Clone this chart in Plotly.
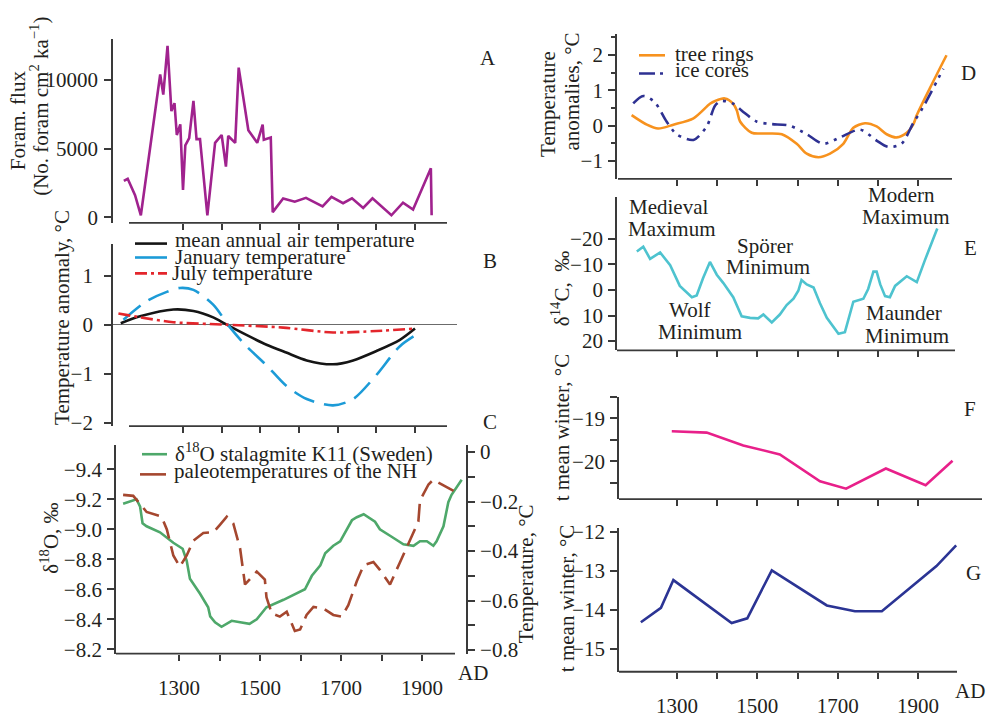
import plotly.graph_objects as go

W, H = 995, 718
FONT = "Liberation Serif"
FS = 21
TXT = "#231f20"
AX = "#3a3a3a"

# ---------------- data ----------------
a_years = [1147,1157,1176,1191,1241,1249,1260,1270,1278,1284,1293,1300,1306,1316,1327,1335,1344,1363,1383,1400,1411,1417,1435,1444,1469,1492,1506,1509,1527,1532,1559,1589,1618,1661,1684,1714,1737,1766,1790,1839,1869,1895,1941,1943]
a_flux = [2640,2800,1600,140,10400,8940,12480,7730,8310,5990,6760,1990,5230,5760,8470,5690,5690,140,5420,5990,3680,5920,5420,10900,6340,5420,6740,5650,5810,370,1370,1130,1410,790,1480,1020,1370,670,1370,140,1060,550,3560,140]

b_mean_years = [1139,1189,1275,1327,1378,1413,1464,1516,1567,1620,1688,1740,1800,1861,1900]
b_mean = [0.03,0.17,0.31,0.28,0.15,0.0,-0.21,-0.41,-0.57,-0.73,-0.81,-0.73,-0.54,-0.31,-0.08]
b_jan_years = [1146,1206,1258,1292,1327,1378,1421,1464,1516,1567,1620,1688,1740,1800,1861,1917]
b_jan = [0.1,0.48,0.67,0.75,0.71,0.41,-0.05,-0.44,-0.83,-1.25,-1.52,-1.65,-1.52,-1.03,-0.44,-0.14]
b_jul_years = [1133,1189,1275,1413,1559,1688,1800,1900]
b_jul = [0.23,0.15,0.05,0.0,-0.06,-0.16,-0.13,-0.08]

c_o18_years = [1162,1195,1204,1210,1220,1253,1286,1309,1319,1327,1352,1372,1377,1389,1405,1430,1451,1474,1492,1516,1558,1582,1611,1628,1649,1661,1681,1698,1714,1727,1739,1756,1784,1796,1825,1854,1879,1895,1912,1928,1936,1953,1965,1973,1998]
c_o18 = [-9.17,-9.20,-9.15,-9.04,-9.02,-8.98,-8.91,-8.87,-8.79,-8.67,-8.57,-8.48,-8.42,-8.38,-8.35,-8.39,-8.38,-8.37,-8.40,-8.48,-8.53,-8.56,-8.60,-8.69,-8.76,-8.84,-8.89,-8.92,-9.00,-9.06,-9.08,-9.10,-9.05,-9.00,-8.95,-8.90,-8.89,-8.92,-8.92,-8.89,-8.92,-9.02,-9.18,-9.23,-9.33]
c_nh_years = [1162,1187,1204,1220,1257,1270,1286,1302,1319,1335,1360,1385,1401,1418,1434,1451,1463,1480,1492,1512,1516,1529,1549,1566,1574,1586,1599,1615,1632,1656,1681,1702,1718,1739,1756,1780,1796,1821,1846,1870,1891,1895,1916,1928,1978]
c_nh = [-0.173,-0.177,-0.21,-0.242,-0.261,-0.313,-0.418,-0.463,-0.418,-0.359,-0.327,-0.324,-0.294,-0.261,-0.288,-0.391,-0.535,-0.502,-0.483,-0.515,-0.587,-0.652,-0.665,-0.645,-0.678,-0.723,-0.717,-0.658,-0.626,-0.632,-0.658,-0.665,-0.619,-0.522,-0.457,-0.444,-0.476,-0.535,-0.444,-0.359,-0.281,-0.196,-0.131,-0.112,-0.157]

d_tree_years = [1187,1225,1253,1291,1341,1382,1395,1419,1440,1449,1457,1486,1515,1561,1598,1623,1652,1681,1714,1739,1768,1797,1822,1847,1872,1888,1897,1930,1971]
d_tree = [0.30,0.03,-0.08,0.03,0.21,0.62,0.70,0.77,0.62,0.43,0.12,-0.20,-0.22,-0.24,-0.51,-0.79,-0.89,-0.79,-0.51,-0.06,0.07,-0.02,-0.24,-0.33,-0.20,0.03,0.30,1.07,1.99]
d_ice_years = [1191,1216,1245,1274,1299,1341,1374,1395,1411,1440,1465,1498,1532,1581,1623,1664,1706,1756,1797,1826,1859,1888,1913,1963]
d_ice = [0.63,0.84,0.66,0.12,-0.24,-0.40,-0.02,0.57,0.70,0.62,0.39,0.12,0.05,0.0,-0.24,-0.51,-0.33,-0.11,-0.42,-0.60,-0.51,0.07,0.53,1.61]

e_years = [1200,1216,1233,1258,1283,1307,1337,1349,1365,1382,1399,1415,1440,1461,1482,1502,1515,1536,1556,1573,1590,1602,1610,1623,1640,1656,1673,1685,1702,1718,1739,1764,1776,1789,1797,1806,1818,1830,1843,1872,1897,1917,1930,1948]
e_d14c = [-15.1,-17.0,-12.2,-14.7,-9.7,-1.6,2.8,2.1,-4.7,-11.0,-6.0,-2.8,2.8,10.3,10.9,11.1,9.6,12.7,9.6,5.9,3.4,0.3,-3.9,-2.2,-1.0,5.2,10.9,13.4,17.1,16.5,4.6,3.4,-0.4,-7.2,-7.2,-2.2,2.4,2.8,-1.6,-5.4,-3.1,-11.6,-17.2,-24.1]

f_years = [1287,1374,1465,1556,1656,1721,1820,1919,1986]
f_vals = [-19.30,-19.33,-19.63,-19.84,-20.47,-20.64,-20.17,-20.56,-19.99]

g_years = [1210,1260,1291,1436,1475,1536,1673,1743,1810,1888,1946,1995]
g_vals = [-14.32,-13.95,-13.24,-14.34,-14.22,-12.99,-13.89,-14.04,-14.04,-13.38,-12.88,-12.35]

x_ticks = [1300,1400,1500,1600,1700,1800,1900]
x_label_ticks = [1300,1500,1700,1900]
x_minor_ticks = [1400,1600,1800]
a_ticks = [0,5000,10000]
a_ticktext = ["0","5000","10000"]
b_ticks = [-2,-1,0,1]
b_ticktext = ["\u22122","\u22121","0","1"]
c_ticks = [-9.4,-9.2,-9.0,-8.8,-8.6,-8.4,-8.2]
c_ticktext = ["\u22129.4","\u22129.2","\u22129.0","\u22128.8","\u22128.6","\u22128.4","\u22128.2"]
c2_ticks = [0,-0.2,-0.4,-0.6,-0.8]
c2_ticktext = ["0","\u22120.2","\u22120.4","\u22120.6","\u22120.8"]
d_ticks = [-1,0,1,2]
d_ticktext = ["\u22121","0","1","2"]
e_ticks = [-20,-10,0,10,20]
e_ticktext = ["\u221220","\u221210","0","10","20"]
f_ticks = [-20,-19]
f_ticktext = ["\u221220","\u221219"]
g_ticks = [-15,-14,-13,-12]
g_ticktext = ["\u221215","\u221214","\u221213","\u221212"]

# ---------------- helpers ----------------
def px(x):
    return x / W

def py(y):
    return 1 - y / H

def xrange_for(xl, xr, p1300, p1900):
    s = (p1900 - p1300) / 600.0
    return [1300 - (p1300 - xl) / s, 1900 + (xr - p1900) / s]

fig = go.Figure()

def line(x, y, color, xa, ya, dash="solid", width=2.6, shape="linear", name=""):
    fig.add_trace(go.Scatter(x=x, y=y, mode="lines", name=name, xaxis=xa, yaxis=ya,
                             line=dict(color=color, width=width, dash=dash, shape=shape, smoothing=0.8),
                             showlegend=False, hoverinfo="skip"))

PURPLE = "#a0228e"
BLACK = "#151515"
JAN = "#1c9bd7"
JUL = "#e3262c"
GREEN = "#4ea86a"
BROWN = "#a5472f"
ORANGE = "#f7921e"
NAVY = "#2e3192"
CYAN = "#4ec3cf"
MAGENTA = "#e8208a"
NAVY2 = "#2b3494"

line(a_years, a_flux, PURPLE, "x", "y", name="Foram. flux")
line(b_mean_years, b_mean, BLACK, "x2", "y2", shape="spline", name="mean annual air temperature")
line(b_jan_years, b_jan, JAN, "x2", "y2", dash="22px,10px", shape="spline", name="January temperature")
line(b_jul_years, b_jul, JUL, "x2", "y2", dash="12px,4px,3px,4px", shape="spline", name="July temperature")
line(c_o18_years, c_o18, GREEN, "x3", "y3", name="d18O stalagmite K11 (Sweden)")
line(c_nh_years, c_nh, BROWN, "x3", "y4", dash="18px,8px", name="paleotemperatures of the NH")
line(d_tree_years, d_tree, ORANGE, "x4", "y5", shape="spline", name="tree rings")
line(d_ice_years, d_ice, NAVY, "x4", "y5", dash="14px,6px,3px,6px,3px,6px", shape="spline", name="ice cores")
line(e_years, e_d14c, CYAN, "x5", "y6", name="d14C")
line(f_years, f_vals, MAGENTA, "x6", "y7", name="F")
line(g_years, g_vals, NAVY2, "x7", "y8", name="G")

tickfont = dict(family=FONT, size=FS, color=TXT)

def xaxis(xl, xr, p1300, p1900, anchor, labels=False):
    d = dict(domain=[px(xl), px(xr)], range=xrange_for(xl, xr, p1300, p1900), anchor=anchor,
             showline=False, showgrid=False, zeroline=False,
             ticks="outside", ticklen=6, tickwidth=1.5, tickcolor=AX,
             tickfont=tickfont, fixedrange=True)
    if labels:
        d.update(tickvals=x_label_ticks, showticklabels=True, ticklabelstandoff=9,
                 minor=dict(tickvals=x_minor_ticks, ticks="outside", ticklen=6, tickwidth=1.5, tickcolor=AX))
    else:
        d.update(tickvals=x_ticks, showticklabels=False)
    return d

def yaxis(yt, yb, rng, tickvals, ticktext, anchor, standoff=1, **kw):
    d = dict(domain=[py(yb), py(yt)], range=rng, anchor=anchor,
             showline=True, linecolor=AX, linewidth=1.8, showgrid=False, zeroline=False,
             ticks="outside", ticklen=7, tickwidth=1.5, tickcolor=AX,
             tickvals=tickvals, ticktext=ticktext, tickfont=tickfont, fixedrange=True,
             ticklabelstandoff=standoff)
    d.update(kw)
    return d

layout = dict(
    width=W, height=H, margin=dict(l=0, r=0, t=0, b=0),
    paper_bgcolor="white", plot_bgcolor="rgba(0,0,0,0)",
    font=dict(family=FONT, size=FS, color=TXT),
    showlegend=False,
)
# left column
layout["xaxis"] = xaxis(113, 457, 183, 415, "y")
layout["yaxis"] = yaxis(32, 224, [-420, 13007], a_ticks, a_ticktext, "x", standoff=2)
layout["xaxis2"] = xaxis(113, 457, 183, 415, "y2")
layout["yaxis2"] = yaxis(245.7, 435.7, [-2.073, 1.653], b_ticks, b_ticktext, "x2", standoff=7,
                         zeroline=True, zerolinecolor="#6b6b6b", zerolinewidth=1.3)
layout["xaxis3"] = xaxis(116, 466, 179, 422, "y3", labels=True)
layout["yaxis3"] = yaxis(455, 672.7, [-8.172, -9.564], c_ticks, c_ticktext, "x3")
layout["yaxis4"] = yaxis(455, 672.7, [-0.814, 0.030], c2_ticks, c2_ticktext, "x3",
                         overlaying="y3", side="right",
                         minor=dict(dtick=0.1, ticks="outside", ticklen=7, tickwidth=1.5, tickcolor=AX))
# right column
layout["xaxis4"] = xaxis(617, 985, 677, 918, "y5")
layout["yaxis5"] = yaxis(27, 178, [-1.499, 2.593], d_ticks, d_ticktext, "x4",
                         minor=dict(dtick=0.5, ticks="outside", ticklen=4, tickwidth=1.5, tickcolor=AX))
layout["xaxis5"] = xaxis(617, 985, 677, 918, "y6")
layout["yaxis6"] = yaxis(197, 356.7, [23.6, -36.4], e_ticks, e_ticktext, "x5")
layout["xaxis6"] = xaxis(619, 985, 677, 918, "y7")
layout["yaxis7"] = yaxis(405, 511.7, [-20.883, -18.49], f_ticks, f_ticktext, "x6",
                         minor=dict(dtick=0.5, ticks="outside", ticklen=7, tickwidth=1.5, tickcolor=AX))
layout["xaxis7"] = xaxis(619, 985, 677, 918, "y8", labels=True)
layout["yaxis8"] = yaxis(541.7, 691.7, [-15.59, -11.90], g_ticks, g_ticktext, "x7")

fig.update_layout(**layout)

shapes = []
def hline(x0, x1, y, color=AX, width=1.8, dash="solid"):
    shapes.append(dict(type="line", xref="paper", yref="paper", x0=px(x0), x1=px(x1),
                       y0=py(y), y1=py(y), line=dict(color=color, width=width, dash=dash)))

# x-axis lines
hline(129, 447, 224)
hline(129, 447, 435.7)
hline(116, 455, 672.7)
hline(618, 952, 178)
hline(617, 955, 356.7)
hline(619, 982, 511.7)
hline(619, 957, 691.7)

# legend samples
hline(135, 167, 245.5, BLACK, 2.6)
hline(135, 167, 260, JAN, 2.6)
hline(135, 167, 276.5, JUL, 2.6, "12px,4px,3px,4px")
hline(142, 167, 465, GREEN, 2.6)
hline(140, 166, 486, BROWN, 2.6)
hline(639, 665, 49.3, ORANGE, 2.6)
hline(639, 663, 68.3, NAVY, 2.6, "16px,5px,3px,5px")

annotations = []
def text(s, x, y, size=FS, xanchor="center", angle=0):
    annotations.append(dict(text=s, x=px(x), y=py(y), xref="paper", yref="paper",
                            showarrow=False, xanchor=xanchor, yanchor="middle",
                            textangle=angle, font=dict(family=FONT, size=size, color=TXT)))

# axis titles
text("Foram. flux", 18, 117, angle=-90)
text("(No. foram cm<sup>2</sup> ka<sup>\u22121</sup>)", 40, 103, angle=-90)
text("Temperature anomaly, \u00b0C", 62, 323, angle=-90)
text("\u03b4<sup>18</sup>O, \u2030", 50, 553, angle=-90)
text("Temperature, \u00b0C", 526, 590, angle=-90)
text("Temperature", 548, 100, angle=-90)
text("anomalies, \u00b0C", 572, 87, angle=-90)
text("\u03b4<sup>14</sup>C,  \u2030", 560, 293, angle=-90)
text("t mean winter, \u00b0C", 562, 437, angle=-90)
text("t mean winter, \u00b0C", 567, 615, angle=-90)

# panel letters
for s, x, y in [("A", 488, 52), ("B", 490, 264), ("C", 490, 431), ("D", 968, 68),
                ("E", 970, 250), ("F", 970, 418), ("G", 973, 589)]:
    text(s, x, y)
text("AD", 473, 693)
text("AD", 970, 712)

# legends
text("mean annual air temperature", 173, 242, xanchor="left")
text("January temperature", 173, 259, xanchor="left")
text("July temperature", 170, 276, xanchor="left")
text("\u03b4<sup>18</sup>O stalagmite K11 (Sweden)", 173, 463, xanchor="left")
text("paleotemperatures of the NH", 172, 483, xanchor="left")
text("tree rings", 673, 48, xanchor="left")
text("ice cores", 673, 65, xanchor="left")

# panel E labels
for s, x, y in [("Medieval", 668, 207), ("Maximum", 672, 230), ("Wolf", 689, 315),
                ("Minimum", 700, 338), ("Sp\u00f6rer", 765, 248), ("Minimum", 768, 270),
                ("Modern", 901, 195), ("Maximum", 906, 218), ("Maunder", 904, 318),
                ("Minimum", 907, 342)]:
    text(s, x, y)

fig.update_layout(shapes=shapes, annotations=annotations)
fig.write_html("out.html", config={"displayModeBar": False},
               post_script="document.body.style.margin='0';document.body.style.overflow='hidden';")
